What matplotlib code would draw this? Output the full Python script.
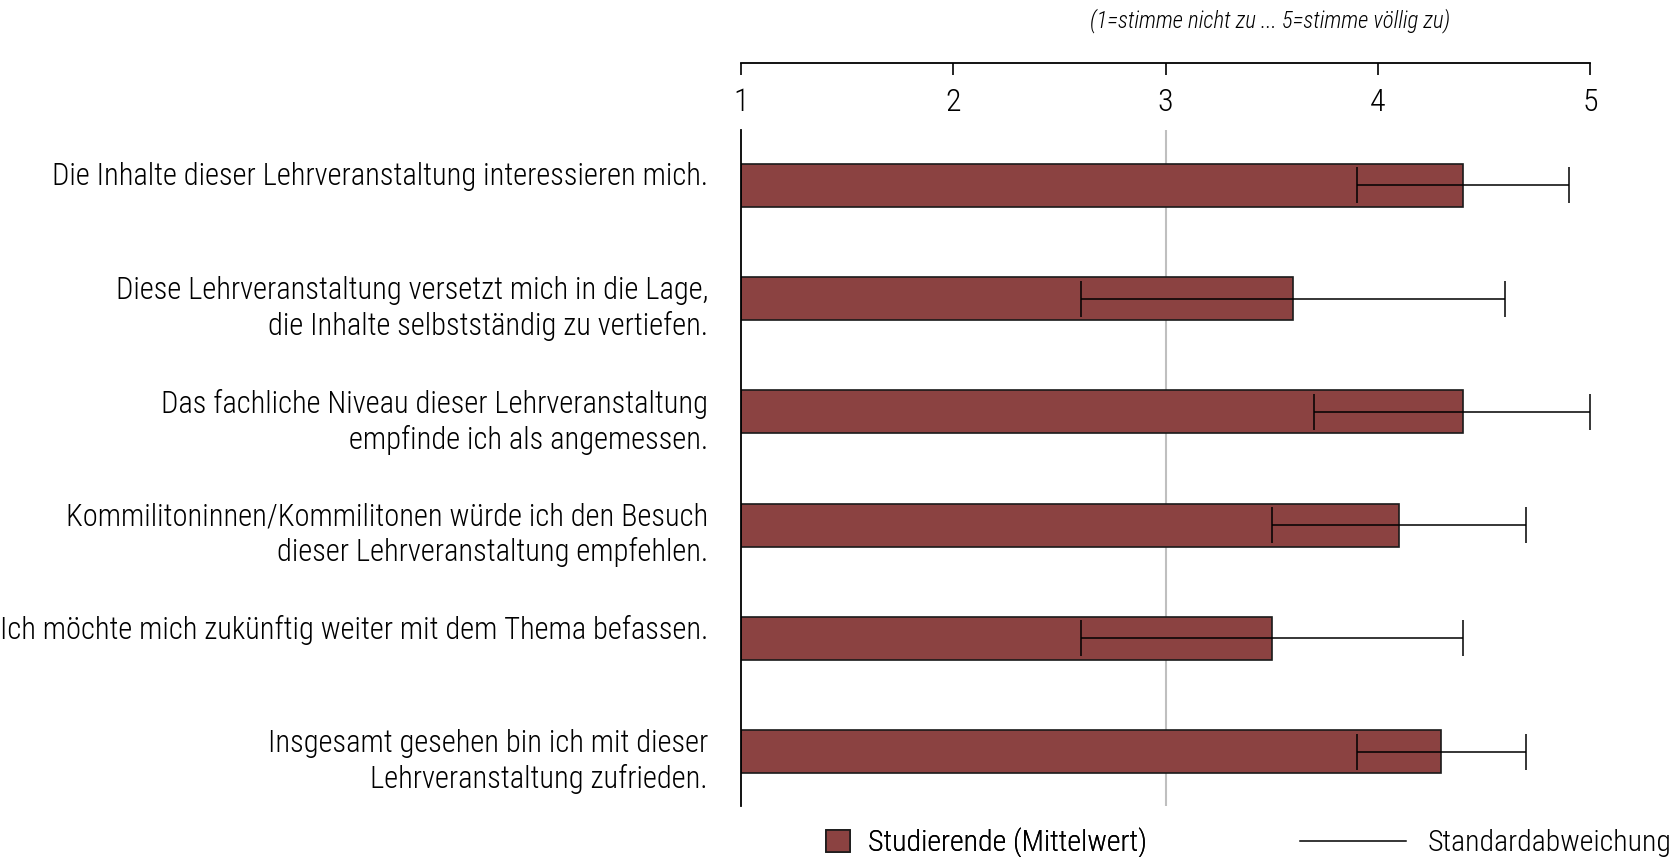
import matplotlib
matplotlib.use('Agg')
import matplotlib.pyplot as plt
import numpy as np
from matplotlib import font_manager as fm
from matplotlib.patches import Patch
from matplotlib.lines import Line2D
from matplotlib.transforms import blended_transform_factory, ScaledTranslation

# ---------------- data ----------------
items = [
    "Die Inhalte dieser Lehrveranstaltung interessieren mich.",
    "Diese Lehrveranstaltung versetzt mich in die Lage,\ndie Inhalte selbstständig zu vertiefen.",
    "Das fachliche Niveau dieser Lehrveranstaltung\nempfinde ich als angemessen.",
    "Kommilitoninnen/Kommilitonen würde ich den Besuch\ndieser Lehrveranstaltung empfehlen.",
    "Ich möchte mich zukünftig weiter mit dem Thema befassen.",
    "Insgesamt gesehen bin ich mit dieser\nLehrveranstaltung zufrieden.",
]
means = [4.4, 3.6, 4.4, 4.1, 3.5, 4.3]
sd = [0.5, 1.0, 0.7, 0.6, 0.9, 0.4]
scale_ticks = [1, 2, 3, 4, 5]
scale_labels = ["1", "2", "3", "4", "5"]
scale_note = "(1=stimme nicht zu ... 5=stimme völlig zu)"
legend_labels = ["Studierende (Mittelwert)", "Standardabweichung"]

# ---------------- font ----------------
avail = {f.name for f in fm.fontManager.ttflist}
cands = ['Roboto Condensed', 'Liberation Sans Narrow', 'Open Sans Condensed',
         'Liberation Sans', 'DejaVu Sans']
fam = next(c for c in cands if c in avail)
plt.rcParams['font.family'] = [fam, 'DejaVu Sans']
plt.rcParams['font.weight'] = 'light'

BAR_COLOR = '#8B4241'
FS = 22

W_PX, H_PX = 1675, 857
fig = plt.figure(figsize=(W_PX / 100, H_PX / 100), dpi=100)

L = 741 / W_PX
AW = 849 / W_PX
ax = fig.add_axes([L, 1 - 806 / H_PX, AW, (806 - 130) / H_PX])

pos = np.arange(len(means))
m = np.array(means)
s = np.array(sd)
lower = s
upper = np.minimum(m + s, scale_ticks[-1]) - m

ax.axvline(3, color='#BFBFBF', lw=1.5, zorder=0)
ax.barh(pos, m - scale_ticks[0], left=scale_ticks[0], height=0.38,
        color=BAR_COLOR, edgecolor='#1a1a1a', linewidth=1.2, zorder=2)
eb = ax.errorbar(m, pos, xerr=[lower, upper], fmt='none', ecolor='black',
                 elinewidth=1.1, capsize=13, capthick=1.1, zorder=4)
for art in eb.lines[1] + eb.lines[2]:
    art.set_clip_on(False)

ax.set_xlim(scale_ticks[0], scale_ticks[-1])
ax.set_ylim(len(means) - 0.52, -0.49)
for sp in ['top', 'right', 'bottom']:
    ax.spines[sp].set_visible(False)
ax.spines['left'].set_linewidth(1.3)
ax.spines['left'].set_color('black')
ax.set_xticks([])
ax.set_yticks([])

trans = blended_transform_factory(ax.transAxes, ax.transData) + \
    ScaledTranslation(0, 16.6 / 72, fig.dpi_scale_trans)
for p, lab in zip(pos, items):
    ax.text(-0.039, p, lab, transform=trans, ha='right', va='top',
            fontsize=FS, multialignment='right', linespacing=1.25,
            fontweight='light')

# top scale axis
axt = fig.add_axes([L, 1 - 88 / H_PX, AW, 25 / H_PX])
axt.set_xlim(scale_ticks[0], scale_ticks[-1])
axt.set_ylim(0, 1)
for sp in ['left', 'right', 'bottom']:
    axt.spines[sp].set_visible(False)
axt.spines['top'].set_linewidth(1.3)
axt.set_xticks(scale_ticks)
axt.set_xticklabels(scale_labels, fontweight='light')
axt.set_yticks([])
axt.tick_params(axis='x', which='both', top=True, bottom=False, labeltop=False,
                labelbottom=True, direction='in', length=8.4, width=1.2,
                pad=0, labelsize=23)
axt.patch.set_visible(False)

fig.text(1450 / W_PX, 1 - 21 / H_PX, scale_note, ha='right', va='center',
         style='italic', fontsize=16.5, fontweight='light')

# legends
ly = 1 - 843 / H_PX
leg1 = fig.legend(handles=[Patch(facecolor=BAR_COLOR, edgecolor='#1a1a1a', lw=1.2)],
                  labels=[legend_labels[0]], loc='center left',
                  bbox_to_anchor=(826 / W_PX, ly), frameon=False,
                  prop={'size': 21.5, 'weight': 'light'},
                  handlelength=0.8, handleheight=0.8, handletextpad=0.6,
                  borderpad=0, borderaxespad=0)
leg2 = fig.legend(handles=[Line2D([], [], color='black', lw=1.1)],
                  labels=[legend_labels[1]], loc='center left',
                  bbox_to_anchor=(1300 / W_PX, ly), frameon=False,
                  prop={'size': 21.5, 'weight': 'light'},
                  handlelength=3.55, handletextpad=0.72,
                  borderpad=0, borderaxespad=0)
fig.add_artist(leg1)

fig.savefig('out.png', dpi=100)
